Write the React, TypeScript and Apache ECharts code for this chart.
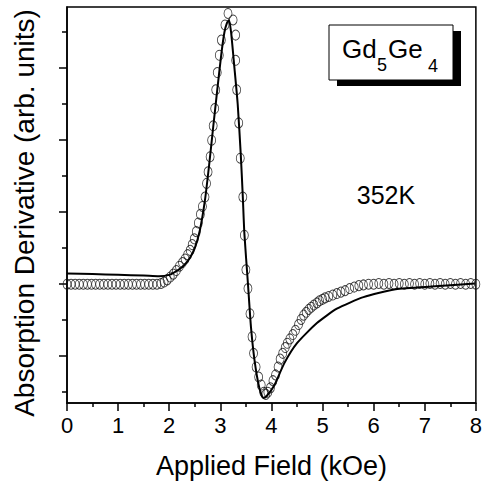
import React, { useEffect, useRef } from "react";
import * as echarts from "echarts";

const xTicks = [0, 1, 2, 3, 4, 5, 6, 7, 8];
const yMajorTicks = [-1, 0, 1, 2, 3];
const yMinorTicks = [-1.5, -0.5, 0.5, 1.5, 2.5, 3.5];

// measured data (circles)
const measured: [number, number][] = [
  [0, 0], [0.08, 0], [0.16, 0], [0.24, 0], [0.32, 0], [0.4, 0], [0.48, 0], [0.56, 0],
  [0.64, 0], [0.72, 0], [0.8, 0], [0.88, 0], [0.96, 0], [1.04, 0], [1.12, 0], [1.2, 0],
  [1.28, 0], [1.36, 0], [1.44, 0], [1.52, 0], [1.6, 0], [1.68, 0], [1.76, 0], [1.84, 0.01],
  [1.9, 0.03], [1.96, 0.06], [2.02, 0.1], [2.08, 0.14], [2.14, 0.19], [2.2, 0.25],
  [2.26, 0.3], [2.31, 0.35], [2.36, 0.41], [2.41, 0.47], [2.45, 0.55], [2.49, 0.63],
  [2.53, 0.73], [2.57, 0.85], [2.61, 0.97], [2.65, 1.08], [2.7, 1.21], [2.73, 1.4],
  [2.76, 1.56], [2.8, 1.77], [2.83, 2.0], [2.86, 2.2], [2.89, 2.44], [2.91, 2.7],
  [2.94, 2.94], [2.98, 3.18], [3.02, 3.39], [3.09, 3.6], [3.15, 3.76], [3.25, 3.67],
  [3.3, 3.46], [3.3, 3.11], [3.32, 2.7], [3.36, 2.24], [3.39, 1.75], [3.44, 1.21],
  [3.47, 0.68], [3.5, 0.2], [3.54, -0.06], [3.58, -0.41], [3.62, -0.73], [3.65, -0.96],
  [3.7, -1.15], [3.75, -1.29], [3.8, -1.4], [3.85, -1.5], [3.89, -1.53], [3.93, -1.5],
  [3.98, -1.44], [4.03, -1.34], [4.08, -1.26], [4.13, -1.15], [4.17, -1.04], [4.22, -0.96],
  [4.27, -0.88], [4.31, -0.82], [4.36, -0.76], [4.42, -0.7], [4.47, -0.64], [4.53, -0.56],
  [4.58, -0.49], [4.63, -0.43], [4.68, -0.39], [4.73, -0.35], [4.78, -0.32], [4.83, -0.29],
  [4.89, -0.26], [4.94, -0.23], [5.0, -0.21], [5.05, -0.19], [5.12, -0.17], [5.2, -0.15],
  [5.28, -0.13], [5.36, -0.11], [5.44, -0.09], [5.53, -0.06], [5.62, -0.04], [5.71, -0.02],
  [5.8, -0.01], [5.9, 0], [6.0, 0], [6.1, 0.01], [6.2, 0], [6.3, 0.01], [6.4, 0],
  [6.5, 0.01], [6.6, 0], [6.7, 0.01], [6.8, 0], [6.9, 0.01], [7.0, 0], [7.1, 0.01],
  [7.2, 0], [7.3, 0.01], [7.4, 0], [7.5, 0.01], [7.6, 0], [7.7, 0.01], [7.8, 0],
  [7.9, 0.01], [8.0, 0],
];

// fitted curve (solid line)
const fitted: [number, number][] = [
  [0, 0.15], [0.5, 0.14], [1.0, 0.13], [1.5, 0.12], [1.8, 0.11], [2.0, 0.13],
  [2.18, 0.2], [2.3, 0.27], [2.4, 0.36], [2.5, 0.5], [2.6, 0.75], [2.7, 1.17],
  [2.78, 1.65], [2.86, 2.18], [2.94, 2.7], [3.02, 3.2], [3.08, 3.5], [3.13, 3.63],
  [3.17, 3.67], [3.21, 3.5], [3.27, 3.05], [3.34, 2.5], [3.4, 1.8], [3.44, 1.21],
  [3.47, 0.71], [3.54, 0.01], [3.6, -0.6], [3.67, -1.06], [3.76, -1.43], [3.84, -1.58],
  [3.9, -1.56], [4.06, -1.4], [4.25, -1.1], [4.5, -0.82], [4.89, -0.54], [5.28, -0.34],
  [5.8, -0.18], [6.43, -0.07], [7.2, -0.03], [7.98, 0.01],
];

const FONT = "Liberation Sans, Arial, Helvetica, sans-serif";

export default function App() {
  const ref = useRef<HTMLDivElement>(null);
  useEffect(() => {
    if (!ref.current) return;
    const chart = echarts.init(ref.current, undefined, { renderer: "svg" });
    chart.setOption({
      animation: false,
      backgroundColor: "#fff",
      grid: {
        left: 67,
        top: 7,
        right: 4,
        bottom: 81,
        show: true,
        borderColor: "#000",
        borderWidth: 1.5,
        backgroundColor: "transparent",
      },
      xAxis: {
        type: "value",
        min: xTicks[0],
        max: xTicks[xTicks.length - 1],
        interval: 1,
        axisLine: { show: true, onZero: false, lineStyle: { color: "#000", width: 1.5 } },
        axisTick: { show: true, inside: false, length: 8, lineStyle: { color: "#000", width: 1.5 } },
        minorTick: { show: true, splitNumber: 2, length: 4, lineStyle: { color: "#000", width: 1.5 } },
        splitLine: { show: false },
        minorSplitLine: { show: false },
        axisLabel: { color: "#000", fontSize: 22, fontFamily: FONT, margin: 11 },
        name: "Applied Field (kOe)",
        nameLocation: "middle",
        nameGap: 49,
        nameTextStyle: { color: "#000", fontSize: 27, fontFamily: FONT },
      },
      yAxis: [
        {
          type: "value",
          min: -1.65,
          max: 3.85,
          position: "left",
          axisLine: { show: true, onZero: false, lineStyle: { color: "#000", width: 1.5 } },
          axisTick: {
            show: true,
            inside: false,
            length: 8,
            customValues: yMajorTicks,
            lineStyle: { color: "#000", width: 1.5 },
          },
          axisLabel: { show: false },
          splitLine: { show: false },
        },
        {
          type: "value",
          min: -1.65,
          max: 3.85,
          position: "left",
          axisLine: { show: false },
          axisTick: {
            show: true,
            inside: false,
            length: 5,
            customValues: yMinorTicks,
            lineStyle: { color: "#000", width: 1.5 },
          },
          axisLabel: { show: false },
          splitLine: { show: false },
        },
      ],
      series: [
        {
          type: "scatter",
          data: measured,
          yAxisIndex: 0,
          symbol: "circle",
          symbolSize: [8, 10],
          itemStyle: { color: "transparent", borderColor: "#111", borderWidth: 0.9 },
          z: 2,
        },
        {
          type: "line",
          data: fitted,
          yAxisIndex: 0,
          showSymbol: false,
          smooth: 0.2,
          lineStyle: { color: "#000", width: 2 },
          z: 3,
        },
      ],
      graphic: [
        {
          type: "text",
          x: 24,
          y: 213,
          rotation: Math.PI / 2,
          style: {
            text: "Absorption Derivative (arb. units)",
            fontSize: 28,
            fontFamily: FONT,
            fill: "#000",
            textAlign: "center",
            textVerticalAlign: "middle",
          },
        },
        {
          type: "text",
          x: 386,
          y: 195,
          style: {
            text: "352K",
            fontSize: 25,
            fontFamily: FONT,
            fill: "#000",
            textAlign: "center",
            textVerticalAlign: "middle",
          },
        },
        {
          type: "rect",
          shape: { x: 337, y: 31, width: 124, height: 55 },
          style: { fill: "#000" },
          z: 10,
        },
        {
          type: "rect",
          shape: { x: 329, y: 25, width: 124, height: 55 },
          style: { fill: "#fff", stroke: "#000", lineWidth: 1 },
          z: 11,
        },
        {
          type: "text",
          x: 342,
          y: 49,
          z: 12,
          style: { text: "Gd", fontSize: 26, fontFamily: FONT, fill: "#000", textAlign: "left", textVerticalAlign: "middle" },
        },
        {
          type: "text",
          x: 377,
          y: 65,
          z: 12,
          style: { text: "5", fontSize: 18, fontFamily: FONT, fill: "#000", textAlign: "left", textVerticalAlign: "middle" },
        },
        {
          type: "text",
          x: 388,
          y: 49,
          z: 12,
          style: { text: "Ge", fontSize: 26, fontFamily: FONT, fill: "#000", textAlign: "left", textVerticalAlign: "middle" },
        },
        {
          type: "text",
          x: 428,
          y: 66,
          z: 12,
          style: { text: "4", fontSize: 18, fontFamily: FONT, fill: "#000", textAlign: "left", textVerticalAlign: "middle" },
        },
      ],
    });
    return () => chart.dispose();
  }, []);
  return (
    <div
      ref={ref}
      style={{ position: "fixed", left: 0, top: 0, width: 485, height: 484, background: "#fff" }}
    />
  );
}
